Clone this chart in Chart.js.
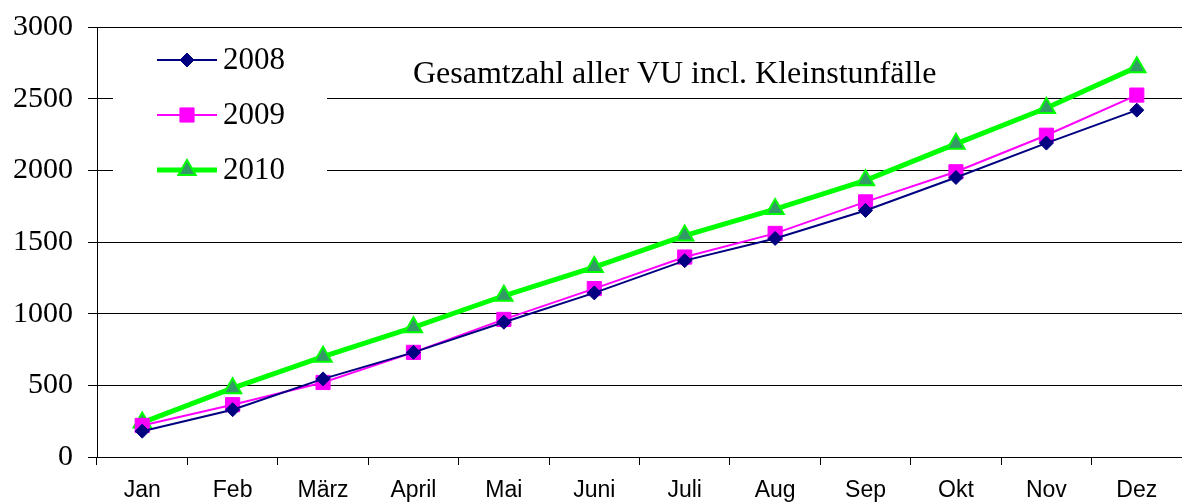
<!DOCTYPE html>
<html>
<head>
<meta charset="utf-8">
<script src="https://cdn.jsdelivr.net/npm/chart.js@4/dist/chart.umd.min.js"></script>
<style>
    html, body { margin: 0; padding: 0; background: #fff; overflow: hidden; }
    #wrap { width: 1194px; height: 503px; }
    #myChart { width: 1194px !important; height: 503px !important; max-width: none !important; }
</style>
</head>
<body>
<div id="wrap"><canvas id="myChart" width="1194" height="503"></canvas></div>
<script>
var months = ['Jan', 'Feb', 'März', 'April', 'Mai', 'Juni', 'Juli', 'Aug', 'Sep', 'Okt', 'Nov', 'Dez'];
var yearLabels = ['2008', '2009', '2010'];
var data2008 = [180, 330, 545, 730, 940, 1145, 1370, 1525, 1720, 1950, 2190, 2420];
var data2009 = [220, 365, 520, 730, 960, 1175, 1395, 1560, 1780, 1990, 2245, 2525];
var data2010 = [240, 480, 700, 905, 1125, 1325, 1545, 1730, 1930, 2185, 2435, 2720];
var yTicks = [0, 500, 1000, 1500, 2000, 2500, 3000];
var chartTitle = 'Gesamtzahl aller VU incl. Kleinstunfälle';

var serif = "'Liberation Serif', 'Times New Roman', serif";
var sans = "'Liberation Sans', Arial, sans-serif";

function drawMarker(ctx, ds, x, y) {
    var opts = {
        pointStyle: ds.pointStyle,
        radius: ds.pointRadius,
        rotation: 0,
        borderWidth: ds.pointBorderWidth
    };
    ctx.save();
    ctx.fillStyle = ds.pointBackgroundColor;
    ctx.strokeStyle = ds.pointBorderColor;
    ctx.lineWidth = ds.pointBorderWidth;
    Chart.helpers.drawPoint(ctx, opts, x, y);
    ctx.restore();
}

// legend + title sit inside the plot area, like the Excel original
var insidePlugin = {
    id: 'insideLegend',
    beforeDatasetsDraw: function(chart) {
        var ctx = chart.ctx;
        ctx.save();
        ctx.fillStyle = '#fff';
        ctx.fillRect(113, 36, 214, 152);
        ctx.restore();
    },
    afterDraw: function(chart) {
        var ctx = chart.ctx;
        var rows = [60, 115, 170];
        chart.data.datasets.forEach(function(ds, i) {
            var y = rows[i];
            ctx.save();
            ctx.strokeStyle = ds.borderColor;
            ctx.lineWidth = ds.borderWidth;
            ctx.beginPath();
            ctx.moveTo(157, y);
            ctx.lineTo(217, y);
            ctx.stroke();
            ctx.restore();
            drawMarker(ctx, ds, 187, y);
            ctx.save();
            ctx.fillStyle = '#000';
            ctx.font = '31px ' + serif;
            ctx.textBaseline = 'middle';
            ctx.fillText(ds.label, 223, y + 1);
            ctx.restore();
        });
        ctx.save();
        ctx.fillStyle = '#000';
        ctx.font = '32px ' + serif;
        ctx.textBaseline = 'alphabetic';
        ctx.fillText(chartTitle, 413, 83);
        ctx.restore();
    }
};

var ctx = document.getElementById('myChart');
var myChart = new Chart(ctx, {
    type: 'line',
    data: {
        labels: months,
        datasets: [
            {
                label: yearLabels[0],
                data: data2008,
                borderColor: '#000080',
                borderWidth: 2,
                pointStyle: 'rectRot',
                pointRadius: 7,
                pointBackgroundColor: '#000080',
                pointBorderColor: '#000080',
                pointBorderWidth: 1
            },
            {
                label: yearLabels[1],
                data: data2009,
                borderColor: '#ff00ff',
                borderWidth: 2,
                pointStyle: 'rect',
                pointRadius: 10,
                pointBackgroundColor: '#ff00ff',
                pointBorderColor: '#ff00ff',
                pointBorderWidth: 1
            },
            {
                label: yearLabels[2],
                data: data2010,
                borderColor: '#00ff00',
                borderWidth: 5,
                pointStyle: 'triangle',
                pointRadius: 10,
                pointBackgroundColor: '#339966',
                pointBorderColor: '#00ff00',
                pointBorderWidth: 2
            }
        ]
    },
    options: {
        responsive: false,
        animation: false,
        layout: { padding: { top: 27, right: 0, left: 0, bottom: 0 } },
        plugins: {
            legend: { display: false },
            title: { display: false },
            tooltip: { enabled: false }
        },
        scales: {
            x: {
                offset: true,
                afterFit: function(s) {
                    s.height = 46;
                    s.paddingLeft = 0;
                    s.paddingRight = 0;
                },
                grid: {
                    offset: true,
                    drawOnChartArea: false,
                    drawTicks: true,
                    tickLength: 8,
                    color: '#000'
                },
                border: { color: '#000', width: 1 },
                ticks: {
                    color: '#000',
                    padding: 12,
                    maxRotation: 0,
                    autoSkip: false,
                    font: { family: sans, size: 23 }
                }
            },
            y: {
                min: 0,
                max: 3000,
                afterFit: function(s) {
                    s.width = 97;
                    s.paddingTop = 0;
                    s.paddingBottom = 0;
                },
                afterBuildTicks: function(s) {
                    s.ticks = yTicks.map(function(v) { return { value: v }; });
                },
                grid: {
                    color: '#000',
                    lineWidth: 1,
                    drawTicks: true,
                    tickLength: 9
                },
                border: { color: '#000', width: 1 },
                ticks: {
                    color: '#000',
                    padding: 15,
                    font: { family: serif, size: 30 },
                    callback: function(v) { return String(v); }
                }
            }
        }
    },
    plugins: [insidePlugin]
});
</script>
</body>
</html>
